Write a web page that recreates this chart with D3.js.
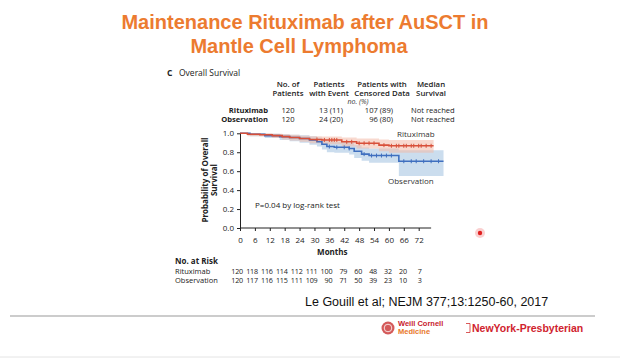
<!DOCTYPE html>
<html>
<head>
<meta charset="utf-8">
<script src="https://cdn.jsdelivr.net/npm/d3@7"></script>
<style>
  body { margin: 0; background: #fff; }
  svg text { font-family: "Open Sans", "DejaVu Sans", sans-serif; }
</style>
</head>
<body>
<div id="chart"></div>
<script>
// Months shown on the x axis and at-risk numbers
const monthTicks = [0, 6, 12, 18, 24, 30, 36, 42, 48, 54, 60, 66, 72];
const probTicks = [0, 0.2, 0.4, 0.6, 0.8, 1.0];
const atRiskRituximab = [120, 118, 116, 114, 112, 111, 100, 79, 60, 48, 32, 20, 7];
const atRiskObservation = [120, 117, 116, 115, 111, 109, 90, 71, 50, 39, 23, 10, 3];

// Kaplan-Meier steps [month, survival]
const rituxSteps = [[0, 1], [3, 0.99], [8, 0.985], [13, 0.975], [17, 0.965], [20, 0.955], [24, 0.945], [28, 0.935], [33, 0.93], [41, 0.91], [47, 0.895], [56, 0.875], [60, 0.868], [78, 0.868]];
const obsSteps = [[0, 1], [4, 0.99], [10, 0.975], [16, 0.965], [20, 0.955], [24, 0.945], [28, 0.93], [31, 0.91], [33, 0.885], [35, 0.86], [38, 0.852], [44, 0.84], [46, 0.81], [49, 0.78], [52, 0.765], [64, 0.705], [82, 0.705]];

// confidence bands [month, low, high]
const rituxBand = [[0, 1, 1], [3, 0.97, 1], [8, 0.965, 1], [13, 0.95, 0.995], [17, 0.935, 0.99], [20, 0.925, 0.985], [24, 0.91, 0.975], [28, 0.895, 0.97], [33, 0.885, 0.965], [41, 0.86, 0.955], [47, 0.84, 0.945], [56, 0.81, 0.935], [60, 0.795, 0.93], [78, 0.795, 0.93]];
const obsBand = [[0, 1, 1], [4, 0.97, 1], [10, 0.95, 0.995], [16, 0.93, 0.99], [20, 0.915, 0.985], [24, 0.9, 0.98], [28, 0.88, 0.97], [31, 0.86, 0.955], [33, 0.83, 0.935], [35, 0.8, 0.915], [38, 0.795, 0.91], [44, 0.775, 0.9], [46, 0.74, 0.875], [49, 0.71, 0.85], [52, 0.69, 0.84], [64, 0.55, 0.82], [82, 0.55, 0.82]];

// censoring marks (months)
const rituxCensor = [31, 34, 36, 37, 38, 39, 43, 45, 48, 50, 52, 54, 58, 61, 63, 64, 66, 67, 69, 70, 72, 73, 75, 77];
const obsCensor = [36, 39, 42, 44, 50, 53, 55, 57, 59, 61, 66, 69, 71, 74, 77, 80];

const tableHead = ["No. of|Patients", "Patients|with Event", "Patients with|Censored Data", "Median|Survival"];
const tableRows = [
  ["Rituximab", "120", "13 (11)", "107 (89)", "Not reached"],
  ["Observation", "120", "24 (20)", "96 (80)", "Not reached"]
];

const W = 620, H = 360;
const svg = d3.select("#chart").append("svg")
  .attr("width", W).attr("height", H);

const orange = "#ec7b30";
const red = "#d8503a";
const blue = "#3f6fbf";
const fs = "8px";

// Title
svg.append("text").attr("x", 305).attr("y", 29).attr("text-anchor", "middle")
  .style("font-family", "Liberation Sans, Arial, sans-serif").style("font-weight", "bold")
  .style("font-size", "20px").attr("fill", orange)
  .text("Maintenance Rituximab after AuSCT in");
svg.append("text").attr("x", 299).attr("y", 53).attr("text-anchor", "middle")
  .style("font-family", "Liberation Sans, Arial, sans-serif").style("font-weight", "bold")
  .style("font-size", "20px").attr("fill", orange)
  .text("Mantle Cell Lymphoma");

// Panel label
svg.append("text").attr("x", 167).attr("y", 76).style("font-size", "8.5px").style("font-weight", "bold")
  .attr("fill", "#222").text("C");
svg.append("text").attr("x", 179).attr("y", 76).style("font-size", "8.5px")
  .attr("fill", "#222").text("Overall Survival");

// Table
const colX = [288, 329, 382, 431];
tableHead.forEach((h, i) => {
  h.split("|").forEach((line, j) => {
    svg.append("text").attr("x", colX[i]).attr("y", 87 + j * 9.3).attr("text-anchor", "middle")
      .style("font-size", "7.8px").style("font-weight", "600").attr("fill", "#222").text(line);
  });
});
svg.append("text").attr("x", 358).attr("y", 104).attr("text-anchor", "middle")
  .style("font-size", "7px").style("font-style", "italic").attr("fill", "#333").text("no. (%)");
const rfs = "7.6px";
tableRows.forEach((r, i) => {
  const y = 112.5 + i * 9.3;
  svg.append("text").attr("x", 268).attr("y", y).attr("text-anchor", "end")
    .style("font-size", rfs).style("font-weight", "bold").attr("fill", "#222").text(r[0]);
  svg.append("text").attr("x", 288).attr("y", y).attr("text-anchor", "middle")
    .style("font-size", rfs).attr("fill", "#222").text(r[1]);
  svg.append("text").attr("x", 331).attr("y", y).attr("text-anchor", "middle")
    .style("font-size", rfs).attr("fill", "#222").text(r[2]);
  svg.append("text").attr("x", 393).attr("y", y).attr("text-anchor", "end")
    .style("font-size", rfs).attr("fill", "#222").text(r[3]);
  svg.append("text").attr("x", 411).attr("y", y).attr("text-anchor", "start")
    .style("font-size", rfs).attr("fill", "#222").text(r[4]);
});

// Scales
const x = d3.scaleLinear().domain([0, 72]).range([240, 418.7]);
const y = d3.scaleLinear().domain([0, 1]).range([228, 133.3]);

// Bands
const band = d3.area().curve(d3.curveStepAfter)
  .x(d => x(d[0])).y0(d => y(d[1])).y1(d => y(d[2]));
svg.append("path").datum(obsBand).attr("d", band)
  .attr("fill", "#a9c6e2").attr("fill-opacity", 0.6);
svg.append("path").datum(rituxBand).attr("d", band)
  .attr("fill", "#f2b9a8").attr("fill-opacity", 0.55);

// Lines
const line = d3.line().curve(d3.curveStepAfter).x(d => x(d[0])).y(d => y(d[1]));
svg.append("path").datum(obsSteps).attr("d", line)
  .attr("fill", "none").attr("stroke", blue).attr("stroke-width", 1.6);
svg.append("path").datum(rituxSteps).attr("d", line)
  .attr("fill", "none").attr("stroke", red).attr("stroke-width", 1.6);

// censor ticks
function survAt(steps, t) {
  let v = steps[0][1];
  steps.forEach(s => { if (s[0] <= t) v = s[1]; });
  return v;
}
svg.selectAll(".cr").data(rituxCensor).enter().append("line")
  .attr("x1", d => x(d)).attr("x2", d => x(d))
  .attr("y1", d => y(survAt(rituxSteps, d)) - 2).attr("y2", d => y(survAt(rituxSteps, d)) + 2)
  .attr("stroke", red).attr("stroke-width", 1);
svg.selectAll(".co").data(obsCensor).enter().append("line")
  .attr("x1", d => x(d)).attr("x2", d => x(d))
  .attr("y1", d => y(survAt(obsSteps, d)) - 2).attr("y2", d => y(survAt(obsSteps, d)) + 2)
  .attr("stroke", blue).attr("stroke-width", 1);

// Axes
const xAxis = svg.append("g").attr("transform", "translate(0,228)")
  .call(d3.axisBottom(x).tickValues(monthTicks).tickSize(3).tickSizeOuter(0));
xAxis.select(".domain").attr("d", `M${x(0)},0H${x(77)}`);
const yAxis = svg.append("g").attr("transform", "translate(240,0)")
  .call(d3.axisLeft(y).tickValues(probTicks).tickFormat(d3.format(".1f")).tickSize(3).tickSizeOuter(0));
[xAxis, yAxis].forEach(a => {
  a.selectAll("text").style("font-size", fs).attr("fill", "#222")
    .style("font-family", "\"Open Sans\", sans-serif");
  a.selectAll("line, path").attr("stroke", "#222");
});
xAxis.selectAll("text").attr("dy", "1.1em");

// axis labels
svg.append("text").attr("transform", "translate(208,180) rotate(-90)")
  .attr("text-anchor", "middle").style("font-size", fs).style("font-weight", "bold")
  .attr("fill", "#222").text("Probability of Overall");
svg.append("text").attr("transform", "translate(217,180) rotate(-90)")
  .attr("text-anchor", "middle").style("font-size", fs).style("font-weight", "bold")
  .attr("fill", "#222").text("Survival");
svg.append("text").attr("x", x(36) + 3).attr("y", 255).attr("text-anchor", "middle")
  .style("font-size", fs).style("font-weight", "bold").attr("fill", "#222").text("Months");

// annotations
svg.append("text").attr("x", 255).attr("y", 208).style("font-size", fs)
  .attr("fill", "#222").text("P=0.04 by log-rank test");
svg.append("text").attr("x", 397).attr("y", 137).style("font-size", fs)
  .attr("fill", "#333").text("Rituximab");
svg.append("text").attr("x", 388).attr("y", 184).style("font-size", fs)
  .attr("fill", "#333").text("Observation");

// At risk table
svg.append("text").attr("x", 175).attr("y", 264).style("font-size", fs).style("font-weight", "bold")
  .attr("fill", "#222").text("No. at Risk");
[["Rituximab", atRiskRituximab], ["Observation", atRiskObservation]].forEach((r, i) => {
  const yy = 274 + i * 9;
  svg.append("text").attr("x", 175).attr("y", yy).style("font-size", "7.5px")
    .attr("fill", "#222").text(r[0]);
  svg.selectAll(null).data(r[1]).enter().append("text")
    .attr("x", (d, j) => x(monthTicks[j]) + 3).attr("y", yy).attr("text-anchor", "end")
    .style("font-size", "7.2px").style("letter-spacing", "-0.2px").attr("fill", "#222").text(d => d);
});

// citation and footer
svg.append("text").attr("x", 305).attr("y", 306)
  .style("font-family", "Liberation Sans, Arial, sans-serif").style("font-size", "12.5px")
  .attr("fill", "#111").text("Le Gouill et al; NEJM 377;13:1250-60, 2017");
svg.append("line").attr("x1", 10).attr("x2", 595).attr("y1", 316).attr("y2", 316)
  .attr("stroke", "#999").attr("stroke-width", 1);
svg.append("line").attr("x1", 0).attr("x2", 620).attr("y1", 357).attr("y2", 357)
  .attr("stroke", "#e4e4e4").attr("stroke-width", 1);

// logos
svg.append("circle").attr("cx", 388).attr("cy", 328).attr("r", 6.5).attr("fill", "#d45a5a");
svg.append("circle").attr("cx", 388).attr("cy", 328).attr("r", 3.8).attr("fill", "none")
  .attr("stroke", "#fff").attr("stroke-width", 0.8);
svg.append("text").attr("x", 398).attr("y", 326)
  .style("font-family", "Liberation Sans, Arial, sans-serif").style("font-size", "7.5px").style("font-weight", "bold")
  .attr("fill", "#c8202e").text("Weill Cornell");
svg.append("text").attr("x", 398).attr("y", 334)
  .style("font-family", "Liberation Sans, Arial, sans-serif").style("font-size", "7.5px").style("font-weight", "bold")
  .attr("fill", "#e8782a").text("Medicine");
svg.append("path").attr("d", "M466,323.5h4v9h-4").attr("fill", "none").attr("stroke", "#d03030").attr("stroke-width", 0.8);
svg.append("text").attr("x", 472).attr("y", 332)
  .style("font-family", "Liberation Sans, Arial, sans-serif").style("font-size", "10.5px").style("font-weight", "bold")
  .attr("fill", "#d0232e").text("NewYork-Presbyterian");

// pointer dot
svg.append("circle").attr("cx", 480).attr("cy", 233).attr("r", 5).attr("fill", "#f6b0b0").attr("opacity", 0.6);
svg.append("circle").attr("cx", 480).attr("cy", 233).attr("r", 2.2).attr("fill", "#e02020");
</script>
</body>
</html>
